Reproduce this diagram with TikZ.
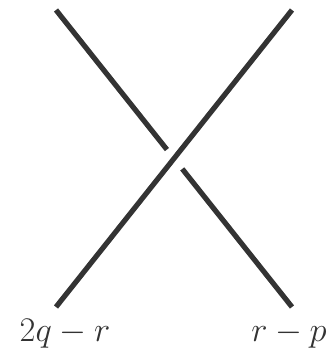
\documentclass[tikz,border=0pt]{standalone}
\usepackage{amsmath}
\usepackage{xcolor}
\usepackage{tikz}
\usetikzlibrary{calc}
\definecolor{strandgray}{HTML}{333333}

\begin{document}
\begin{tikzpicture}[
  x=0.5pt, y=0.5pt,
  strand/.style={draw=strandgray, line width=2.6pt},
  lbl/.style   ={font=\fontsize{17}{20}\selectfont, text=strandgray, inner sep=0pt, anchor=base},
]
\useasboundingbox (0,0) rectangle (332,355);

% ---- end points ----
\coordinate (tl) at ( 56,345);
\coordinate (tr) at (292,345);
\coordinate (bl) at ( 56, 48);
\coordinate (br) at (292, 48);

% ---- over strand ----
\draw[strand] (bl) -- (tr);

% ---- under strand (broken at the crossing) ----
\coordinate (gapa) at ($(tl)!0.47!(br)$);
\coordinate (gapb) at ($(tl)!0.535!(br)$);
\draw[strand] (tl) -- (gapa);
\draw[strand] (gapb) -- (br);

% ---- labels ----
\node[lbl] (lleft)  at ( 65,13) {$2q-r$};
\node[lbl] (lright) at (289,13) {$r-p$};
\end{tikzpicture}
\end{document}
